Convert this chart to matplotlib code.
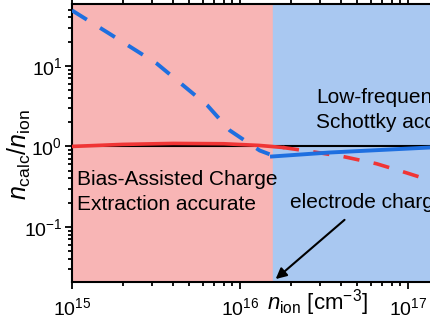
import matplotlib
matplotlib.use('Agg')
import matplotlib.pyplot as plt
import numpy as np

plt.rcParams['font.family'] = ['Liberation Sans', 'DejaVu Sans']
plt.rcParams['mathtext.fontset'] = 'custom'
plt.rcParams['mathtext.rm'] = 'Liberation Sans'
plt.rcParams['mathtext.it'] = 'Liberation Sans:italic'

# boundary between regimes
n_split = 1.57e16

# blue dashed
blue_dash_x = [1e15, 1.68e15, 3.2e15, 6.4e15, 8.7e15, 1.31e16, 1.5e16]
blue_dash_y = [49, 25, 10.7, 3.23, 1.58, 0.89, 0.80]

# blue solid
blue_solid_x = [1.55e16, 3.4e16, 1.35e17]
blue_solid_y = [0.75, 0.84, 0.97]

# red solid
red_solid_x = [1e15, 2e15, 4e15, 8e15, 1.3e16, 1.8e16]
red_solid_y = [1.0, 1.06, 1.09, 1.08, 1.03, 0.97]

# red dashed
red_dash_x = [1.8e16, 2.6e16, 4.1e16, 6.5e16, 9.8e16, 1.35e17]
red_dash_y = [0.97, 0.87, 0.75, 0.61, 0.47, 0.38]

fig = plt.figure(figsize=(4.3, 3.23), dpi=100)
ax = fig.add_axes([0.1674, 0.127, 1.172, 0.8607])

ax.set_xscale('log')
ax.set_yscale('log')
ax.set_xlim(1e15, 1e18)
ax.set_ylim(0.0207, 58.9)

ax.axvspan(1e15, n_split, color='#F8B5B5', zorder=0)
ax.axvspan(n_split, 1e18, color='#A9C8F1', zorder=0)

ax.plot([1e15, 1e18], [1, 1], color='black', lw=1.5, zorder=2)
ax.plot(red_solid_x, red_solid_y, color='#F03535', lw=2.6, zorder=3)
ax.plot(red_dash_x, red_dash_y, color='#F03535', lw=2.6, ls=(0, (4.5, 4)), zorder=3)
ax.plot(blue_dash_x, blue_dash_y, color='#1E6FE0', lw=2.8, ls=(0, (4.5, 4)), zorder=3)
ax.plot(blue_solid_x, blue_solid_y, color='#1E6FE0', lw=2.8, zorder=3)

fs = 15
ax.text(0.0099, 0.349, 'Bias-Assisted Charge', fontsize=fs, transform=ax.transAxes, va='baseline')
ax.text(0.0099, 0.259, 'Extraction accurate', fontsize=fs, transform=ax.transAxes, va='baseline')
ax.text(0.484, 0.644, 'Low-frequency', fontsize=fs, transform=ax.transAxes, va='baseline')
ax.text(0.484, 0.554, 'Schottky accurate', fontsize=fs, transform=ax.transAxes, va='baseline')
ax.text(0.4325, 0.266, 'electrode charge', fontsize=fs, transform=ax.transAxes, va='baseline')
ax.annotate('', xy=(0.400, 0.004), xytext=(0.545, 0.230), xycoords='axes fraction',
            arrowprops=dict(arrowstyle='-|>', color='black', lw=1.5, mutation_scale=16))

for s in ax.spines.values():
    s.set_linewidth(1.5)
ax.tick_params(which='both', direction='out', width=1.3, labelsize=14)
ax.tick_params(which='major', length=5)
ax.tick_params(which='minor', length=3)
ax.tick_params(axis='x', which='both', top=True, labeltop=False)
ax.tick_params(axis='y', which='both', pad=2)
ax.xaxis.set_tick_params(which='both', pad=6)

ax.text(-0.105, 0.457, r'$n_{\rm calc}/n_{\rm ion}$', transform=ax.transAxes,
        fontsize=18, rotation=90, ha='center', va='center')
ax.text(0.488, -0.075, r'$n_{\rm ion}$ [cm$^{-3}$]', transform=ax.transAxes,
        fontsize=16, ha='center', va='center')

fig.savefig('out.png', dpi=100)
